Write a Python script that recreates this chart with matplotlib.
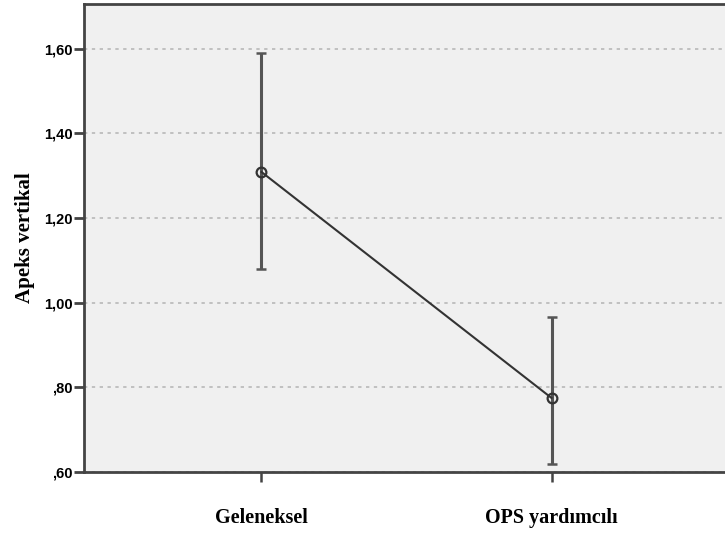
import matplotlib
matplotlib.use("Agg")
import matplotlib.pyplot as plt

categories = ["Geleneksel", "OPS yardımcılı"]
means = [1.309, 0.775]
upper = [1.590, 0.966]
lower = [1.079, 0.620]
yticks = [0.60, 0.80, 1.00, 1.20, 1.40, 1.60]
ytick_labels = [",60", ",80", "1,00", "1,20", "1,40", "1,60"]

fig = plt.figure(figsize=(7.25, 5.38), dpi=100)
ax = fig.add_axes([84/725, 1-472/538, (729-84)/725, (472-4)/538])
ax.set_facecolor("#f0f0f0")

x = list(range(len(categories)))
yerr = [[m - l for m, l in zip(means, lower)], [u - m for m, u in zip(means, upper)]]
ax.errorbar(x, means, yerr=yerr, fmt="none", ecolor="#555555", elinewidth=2.2,
            capsize=3.5, capthick=1.8, zorder=3)
ax.plot(x, means, color="#333333", lw=1.5, marker="o", markersize=7,
        markerfacecolor="none", markeredgecolor="#333333", markeredgewidth=1.6, zorder=4)

ax.set_xlim(-0.612, 1.612)
ax.set_ylim(0.60, 1.706)
ax.set_yticks(yticks)
ax.set_yticklabels(ytick_labels, family="Liberation Sans", fontweight="bold", fontsize=10.5)
ax.set_xticks(x)
ax.set_xticklabels(categories, family="Liberation Serif", fontweight="bold", fontsize=14.5)
ax.tick_params(axis="y", length=7, width=2, color="#444444", pad=1)
ax.tick_params(axis="x", length=7, width=1.8, color="#444444", pad=19)
ax.yaxis.grid(True, linestyle=(0, (2, 2.7)), color="#b8b8b8", lw=1.2)
ax.set_axisbelow(True)
for s in ax.spines.values():
    s.set_color("#444444")
    s.set_linewidth(2)
ax.set_ylabel("Apeks vertikal", family="Liberation Serif", fontweight="bold", fontsize=15, labelpad=7)

fig.savefig("out.png", dpi=100)
